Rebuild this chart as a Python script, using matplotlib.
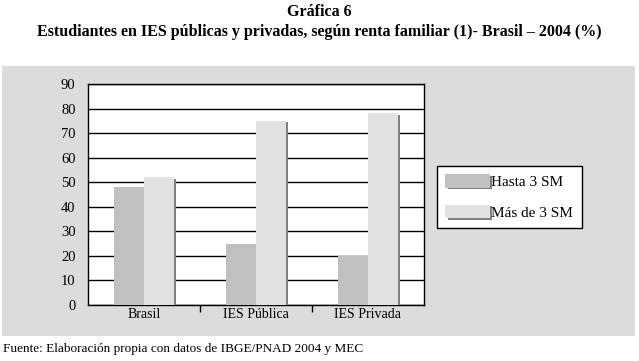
import matplotlib
matplotlib.use("Agg")
import matplotlib.pyplot as plt
import matplotlib.patheffects as pe
from matplotlib.patches import Rectangle
import numpy as np

categories = ["Brasil", "IES Pública", "IES Privada"]
hasta_3sm = [48, 25, 20]
mas_3sm = [52, 75, 78]
series_names = ["Hasta 3 SM", "Más de 3 SM"]
yticks = [0, 10, 20, 30, 40, 50, 60, 70, 80, 90]

plt.rcParams['font.family'] = ['Liberation Serif', 'DejaVu Serif']

W, H = 639, 361
fig = plt.figure(figsize=(W / 100, H / 100), dpi=100)
fig.patch.set_facecolor('white')

# gray panel
fig.add_artist(Rectangle((2 / W, 1 - 336 / H), 633 / W, 270 / H, transform=fig.transFigure,
                         facecolor='#dcdcdc', edgecolor='none', zorder=0))

fig.text(0.5, 1 - 12 / H, "Gráfica 6", ha='center', va='center', fontsize=11.5, fontweight='bold')
fig.text(0.5, 1 - 32 / H, "Estudiantes en IES públicas y privadas, según renta familiar (1)- Brasil – 2004 (%)",
         ha='center', va='center', fontsize=11.5, fontweight='bold')
fig.text(3 / W, 1 - 349 / H, "Fuente: Elaboración propia con datos de IBGE/PNAD 2004 y MEC",
         ha='left', va='center', fontsize=9.5)

left, right, top, bottom = 88, 424, 84, 305
ax = fig.add_axes([left / W, 1 - bottom / H, (right - left) / W, (bottom - top) / H])
ax.set_facecolor('white')

x = np.arange(len(categories))
bw = 0.27
shadow = [pe.SimplePatchShadow(offset=(1.6, -1.0), shadow_rgbFace='#808080', alpha=1.0), pe.Normal()]
b1 = ax.bar(x - bw / 2, hasta_3sm, bw, color='#c0c0c0', zorder=3, label=series_names[0])
b2 = ax.bar(x + bw / 2, mas_3sm, bw, color='#e2e2e2', zorder=3, label=series_names[1])
for b in list(b1) + list(b2):
    b.set_path_effects(shadow)

ax.set_xlim(-0.5, len(categories) - 0.5)
ax.set_ylim(0, 90)
ax.set_yticks(yticks)
ax.set_yticklabels([str(v) for v in yticks], fontsize=10.5)
ax.tick_params(axis='y', length=0, pad=9)
ax.grid(axis='y', color='black', linewidth=1.0, zorder=1)
ax.set_axisbelow(True)

ax.set_xticks(x)
ax.set_xticklabels(categories, fontsize=10)
ax.tick_params(axis='x', length=0, pad=2)
ax.set_xticks([0.5, 1.5], minor=True)
ax.tick_params(axis='x', which='minor', length=5, width=1, direction='out', color='black')
for s in ax.spines.values():
    s.set_color('black')
    s.set_linewidth(1.0)

leg = fig.legend(handles=[b1, b2], labels=series_names, loc='upper left',
                 bbox_to_anchor=(437 / W, 1 - 166 / H), fontsize=11, frameon=True,
                 fancybox=False, edgecolor='black', framealpha=1, facecolor='white',
                 handlelength=2.9, handleheight=1.0, handletextpad=0.1,
                 borderpad=0.55, labelspacing=1.0, borderaxespad=0)
leg.get_frame().set_linewidth(1.0)
for h in leg.legend_handles:
    h.set_path_effects(shadow)

fig.savefig("out.png", dpi=100, facecolor='white')
